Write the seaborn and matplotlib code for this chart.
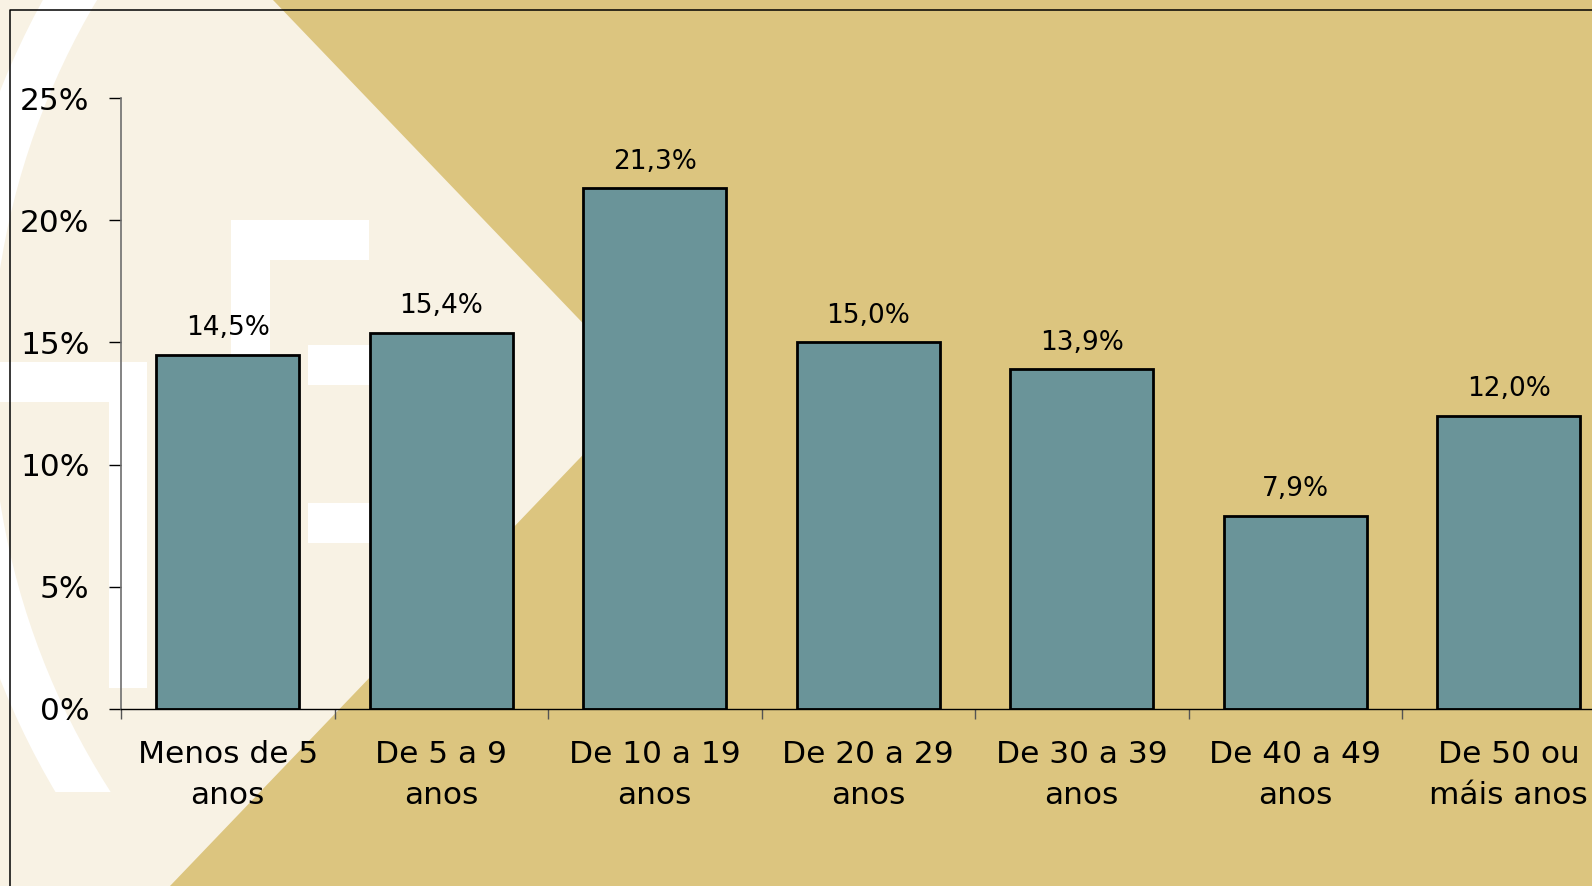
import matplotlib
matplotlib.use("Agg")
import matplotlib.pyplot as plt
import seaborn as sns
from matplotlib.patches import Polygon, Rectangle, Wedge
from matplotlib.ticker import FixedLocator

CREAM = "#F8F2E4"
GOLD = "#DCC57F"
BAR = "#6A9499"

age_groups = [
    "Menos de 5\nanos",
    "De 5 a 9\nanos",
    "De 10 a 19\nanos",
    "De 20 a 29\nanos",
    "De 30 a 39\nanos",
    "De 40 a 49\nanos",
    "De 50 ou\nmáis anos",
]
shares = [14.5, 15.4, 21.3, 15.0, 13.9, 7.9, 12.0]
y_ticks = [0, 5, 10, 15, 20, 25]

W, H = 1592, 886
sns.set_style("ticks")
plt.rcParams["font.family"] = ["DejaVu Sans"]
plt.rcParams["text.color"] = "black"
plt.rcParams["xtick.labelcolor"] = "black"
plt.rcParams["ytick.labelcolor"] = "black"

fig = plt.figure(figsize=(W / 100, H / 100), dpi=100)
fig.patch.set_facecolor(GOLD)

# Decorative slide background, drawn in pixel coordinates.
bg = fig.add_axes([0, 0, 1, 1])
bg.set_xlim(0, W)
bg.set_ylim(H, 0)
bg.axis("off")
bg.add_patch(Polygon([(0, 0), (273, 0), (646, 389), (170, 886), (0, 886)], color=CREAM, lw=0))
arc = Wedge((743, 385), 799, 90, 270, width=47, color="white", lw=0)
bg.add_patch(arc)
arc.set_clip_path(Rectangle((0, 0), W, 792, transform=bg.transData))
for x0, y0, x1, y1 in [
    (231, 220, 369, 260),
    (231, 260, 270, 700),
    (308, 345, 400, 385),
    (308, 503, 400, 543),
    (0, 362, 147, 402),
    (109, 402, 147, 688),
]:
    bg.add_patch(Rectangle((x0, y0), x1 - x0, y1 - y0, color="white", lw=0))
bg.plot([10, 10, W], [H, 10, 10], color="black", lw=1.1)

ax = fig.add_axes([121 / W, 1 - 709 / H, 1494.5 / W, 611 / H])
ax.patch.set_alpha(0)
sns.barplot(
    x=age_groups,
    y=shares,
    color=BAR,
    saturation=1,
    width=0.67,
    edgecolor="black",
    linewidth=2,
    ax=ax,
)

for i, v in enumerate(shares):
    ax.annotate(
        f"{v:.1f}%".replace(".", ","),
        (i, v),
        xytext=(0, 14),
        textcoords="offset points",
        ha="center",
        va="baseline",
        fontsize=19,
        color="black",
    )

ax.set_xlim(-0.5, len(age_groups) - 0.5)
ax.set_ylim(0, 25)
ax.set_yticks(y_ticks)
ax.set_yticklabels([f"{t}%" for t in y_ticks], fontsize=22.5)
ax.tick_params(axis="y", length=8.6, width=1, color="black", pad=14)
ax.tick_params(axis="x", which="major", length=0, pad=22, labelsize=22.5)
ax.xaxis.set_minor_locator(FixedLocator([i - 0.5 for i in range(len(age_groups) + 1)]))
ax.tick_params(axis="x", which="minor", length=7.2, width=1, color="#555555")
for lbl in ax.get_xticklabels():
    lbl.set_linespacing(1.55)

ax.set_xlabel("")
ax.set_ylabel("")
sns.despine(ax=ax, top=True, right=True)
ax.spines["left"].set_color("#6E6E6E")
ax.spines["left"].set_linewidth(1.2)
ax.spines["bottom"].set_color("black")
ax.spines["bottom"].set_linewidth(1)

fig.savefig("out.png", dpi=100, facecolor=fig.get_facecolor())
